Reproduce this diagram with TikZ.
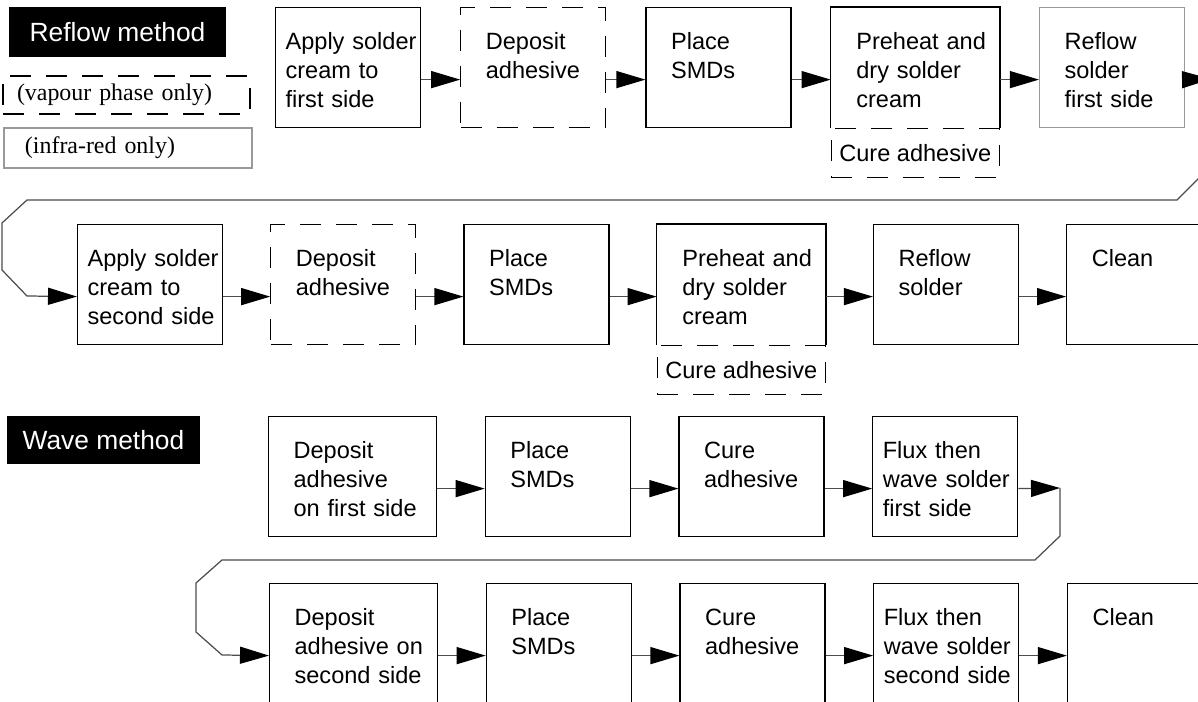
\documentclass[tikz,border=0pt]{standalone}
\usepackage{fontspec}
\setmainfont{Liberation Serif}
\setsansfont{Liberation Sans}
\usepackage{tikz}
\usetikzlibrary{arrows.meta, positioning}
\hyphenpenalty=10000
\exhyphenpenalty=10000
\tikzstyle{stepbox} = [rectangle, draw=black, line width=0.7pt, align=left, text width=1.9cm, inner xsep=0.5cm, inner ysep=0pt, text height=0.84cm, text depth=1.56cm, font=\sffamily\fontsize{13.4}{16.5}\selectfont]
\tikzstyle{widebox} = [stepbox, text width=2.36cm]
\tikzstyle{tightbox} = [stepbox, text width=2.5cm, inner xsep=0.2cm]
\tikzstyle{vapourbox} = [stepbox, dash pattern=on 0.42cm off 0.3cm]
\tikzstyle{infrabox} = [stepbox, draw=black!40]
\tikzstyle{openbox} = [widebox, draw=none]
\tikzstyle{curebox} = [rectangle, draw=black, line width=0.7pt, dash pattern=on 0.42cm off 0.3cm, minimum width=3.36cm, minimum height=0.98cm, inner sep=0pt, font=\sffamily\fontsize{13.4}{16.5}\selectfont]
\tikzstyle{method} = [rectangle, fill=black, text=white, inner sep=0pt, minimum height=1cm, font=\sffamily\fontsize{15}{18}\selectfont]
\tikzstyle{legend} = [rectangle, line width=0.7pt, align=left, inner ysep=0pt, font=\rmfamily\fontsize{13.6}{16}\selectfont]
\tikzstyle{arrow} = [draw=black!70, line width=0.7pt, -{Triangle[length=5.8mm, width=3.4mm, color=black]}]
\begin{document}
\begin{tikzpicture}
    \useasboundingbox (0,0) rectangle (23.96,-14.04);
    \clip (0,0) rectangle (23.96,-14.04);

    % key
    \node (reflowlbl) [method, minimum width=4.34cm] at (2.35,-0.64) {Reflow method};
    \node (vapourkey) [legend, draw=black, dash pattern=on 0.42cm off 0.3cm, minimum height=0.76cm, text width=4.38cm, inner xsep=0.28cm] at (2.53,-1.9) {(vapour phase only)};
    \node (infrakey) [legend, draw=black!40, minimum height=0.8cm, text width=4.12cm, inner xsep=0.42cm] at (2.56,-2.96) {(infra-red only)};

    % reflow, first side
    \node (r1a) [tightbox, anchor=north west] at (5.5,-0.14) {Apply~solder\\cream to\\first side};
    \node (r1b) [vapourbox, right=0.78cm of r1a] {Deposit\\adhesive};
    \node (r1c) [stepbox, right=0.78cm of r1b] {Place\\SMDs};
    \node (r1d) [openbox, right=0.78cm of r1c] {Preheat~and\\dry solder\\cream};
    \node (r1e) [infrabox, right=0.78cm of r1d] {Reflow\\solder\\first side};
    \node (r1cure) [curebox, below=0pt of r1d] {Cure adhesive};
    \coordinate (r1out) at (24.22,-1.58);

    % reflow, second side
    \node (r2a) [tightbox, anchor=north west] at (1.54,-4.48) {Apply~solder\\cream to\\second~side};
    \node (r2b) [vapourbox, right=0.94cm of r2a] {Deposit\\adhesive};
    \node (r2c) [stepbox, right=0.94cm of r2b] {Place\\SMDs};
    \node (r2d) [openbox, right=0.94cm of r2c] {Preheat~and\\dry solder\\cream};
    \node (r2e) [stepbox, right=0.94cm of r2d] {Reflow\\solder};
    \node (r2f) [stepbox, right=0.94cm of r2e] {Clean};
    \node (r2cure) [curebox, below=0pt of r2d] {Cure adhesive};

    \draw [line width=0.7pt] (r1d.south west) |- (r1d.north east) -- (r1d.south east);
    \draw [line width=0.7pt] (r2d.south west) |- (r2d.north east) -- (r2d.south east);

    % wave
    \node (wavelbl) [method, minimum width=3.86cm, minimum height=0.96cm] at (2.07,-8.8) {Wave method};
    \node (w1a) [widebox, anchor=north west] at (5.36,-8.32) {Deposit\\adhesive\\on~first~side};
    \node (w1b) [stepbox, right=0.95cm of w1a] {Place\\SMDs};
    \node (w1c) [stepbox, right=0.95cm of w1b] {Cure\\adhesive};
    \node (w1d) [tightbox, right=0.95cm of w1c] {Flux then\\wave~solder\\first side};
    \coordinate (w1out) at (21.2,-9.76);

    \node (w2a) [widebox, anchor=north west] at (5.38,-11.66) {Deposit\\adhesive~on\\second~side};
    \node (w2b) [stepbox, right=0.95cm of w2a] {Place\\SMDs};
    \node (w2c) [stepbox, right=0.95cm of w2b] {Cure\\adhesive};
    \node (w2d) [tightbox, right=0.95cm of w2c] {Flux then\\wave~solder\\second~side};
    \node (w2e) [stepbox, right=0.95cm of w2d] {Clean};

    \draw [arrow] ([yshift=-0.24cm]r1a.east) -- ([yshift=-0.24cm]r1b.west);
    \draw [arrow] ([yshift=-0.24cm]r1b.east) -- ([yshift=-0.24cm]r1c.west);
    \draw [arrow] ([yshift=-0.24cm]r1c.east) -- ([yshift=-0.24cm]r1d.west);
    \draw [arrow] ([yshift=-0.24cm]r1d.east) -- ([yshift=-0.24cm]r1e.west);
    \draw [arrow] ([yshift=-0.24cm]r1e.east) -- (r1out);
    \draw [arrow] (r1out) -- ++(0,-1.74) -- ++(-0.68,-0.68) -- (0.54,-4.0) -- ++(-0.5,-0.46) -- ++(0,-0.94) -- ++(0.5,-0.52) -- ([yshift=-0.24cm]r2a.west);
    \draw [arrow] ([yshift=-0.24cm]r2a.east) -- ([yshift=-0.24cm]r2b.west);
    \draw [arrow] ([yshift=-0.24cm]r2b.east) -- ([yshift=-0.24cm]r2c.west);
    \draw [arrow] ([yshift=-0.24cm]r2c.east) -- ([yshift=-0.24cm]r2d.west);
    \draw [arrow] ([yshift=-0.24cm]r2d.east) -- ([yshift=-0.24cm]r2e.west);
    \draw [arrow] ([yshift=-0.24cm]r2e.east) -- ([yshift=-0.24cm]r2f.west);

    \draw [arrow] ([yshift=-0.24cm]w1a.east) -- ([yshift=-0.24cm]w1b.west);
    \draw [arrow] ([yshift=-0.24cm]w1b.east) -- ([yshift=-0.24cm]w1c.west);
    \draw [arrow] ([yshift=-0.24cm]w1c.east) -- ([yshift=-0.24cm]w1d.west);
    \draw [arrow] ([yshift=-0.24cm]w1d.east) -- (w1out);
    \draw [arrow] (w1out) -- ++(0,-0.96) -- ++(-0.5,-0.48) -- (4.44,-11.2) -- ++(-0.52,-0.46) -- ++(0,-0.98) -- ++(0.52,-0.46) -- ([yshift=-0.24cm]w2a.west);
    \draw [arrow] ([yshift=-0.24cm]w2a.east) -- ([yshift=-0.24cm]w2b.west);
    \draw [arrow] ([yshift=-0.24cm]w2b.east) -- ([yshift=-0.24cm]w2c.west);
    \draw [arrow] ([yshift=-0.24cm]w2c.east) -- ([yshift=-0.24cm]w2d.west);
    \draw [arrow] ([yshift=-0.24cm]w2d.east) -- ([yshift=-0.24cm]w2e.west);
\end{tikzpicture}
\end{document}
